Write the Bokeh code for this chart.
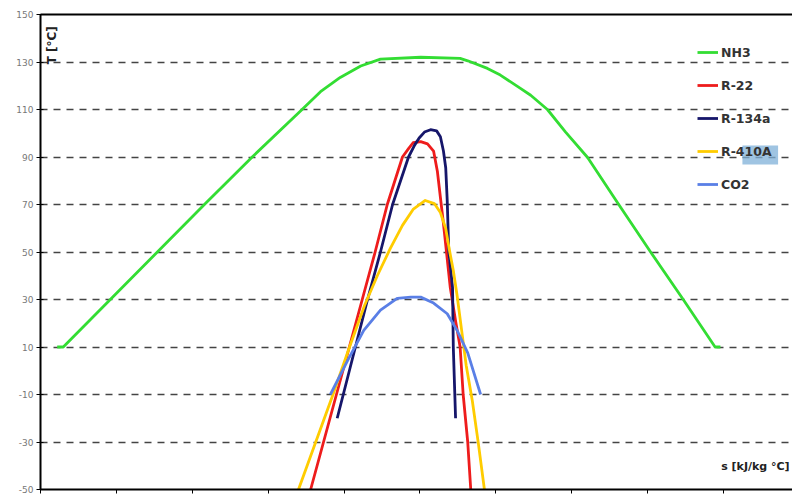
from bokeh.plotting import figure
from bokeh.models import (FixedTicker, LinearAxis, Label, Legend, LegendItem,
                          BoxAnnotation, Range1d, CustomJSTickFormatter)
from bokeh.embed import file_html
from bokeh.resources import INLINE

# ---- data ----
nh3_s = [0.22, 0.30, 0.92, 1.54, 2.16, 2.79, 3.43, 3.69, 3.95, 4.22, 4.48, 5.01, 5.53,
         5.63, 5.89, 6.06, 6.32, 6.46, 6.68, 6.92, 7.21, 7.62, 8.04, 8.47, 8.89, 8.96]
nh3_t = [10, 10, 30, 50, 70, 90, 109.5, 117.5, 123.5, 128.3, 131.2, 132, 131.5,
         130.5, 127.3, 124.5, 119, 116, 110, 100.5, 89.8, 70, 50, 30, 10, 10]

r22_s = [3.56, 3.73, 3.90, 4.07, 4.24, 4.41, 4.57, 4.77, 4.85, 4.91, 5.01, 5.10,
         5.18, 5.23, 5.31, 5.40, 5.47, 5.53, 5.57, 5.63, 5.67]
r22_t = [-50, -30, -10, 10, 30, 50, 70, 90, 93.5, 96, 96.5, 95.5,
         92.5, 84, 62, 35, 21, 10, -10, -30, -50]

r134a_s = [3.91, 3.99, 4.15, 4.31, 4.48, 4.64, 4.85, 4.93, 4.99, 5.06, 5.14, 5.22,
           5.27, 5.31, 5.34, 5.36, 5.38, 5.43, 5.44, 5.47]
r134a_t = [-20, -10, 10, 30, 50, 70, 90, 95, 98, 100.5, 101.5, 101,
           98.5, 92.5, 85.5, 71.5, 50.5, 35, 10, -20]

r410a_s = [3.40, 3.62, 3.85, 4.07, 4.27, 4.44, 4.61, 4.77, 4.91, 5.07, 5.19, 5.27,
           5.34, 5.39, 5.44, 5.49, 5.55, 5.61, 5.69, 5.77, 5.85]
r410a_t = [-50, -30.6, -10.4, 9.8, 27.5, 40.1, 51.5, 61.2, 67.9, 71.7, 70.4, 66.6,
           59.9, 50.6, 42.2, 31.7, 17, 2.2, -12.5, -30.6, -50]

co2_s = [3.82, 4.05, 4.26, 4.48, 4.70, 4.88, 5.01, 5.18, 5.36, 5.49, 5.63, 5.80]
co2_t = [-10, 4.5, 17, 25.5, 30.5, 31, 31, 28.5, 24, 17, 7.5, -10]

y_ticks = [-50, -30, -10, 10, 30, 50, 70, 90, 110, 130, 150]
x_ticks = [0, 1, 2, 3, 4, 5, 6, 7, 8, 9]

series = [
    ("NH3", nh3_s, nh3_t, "#33dd33"),
    ("R-22", r22_s, r22_t, "#ee1c1c"),
    ("R-134a", r134a_s, r134a_t, "#16166a"),
    ("R-410A", r410a_s, r410a_t, "#ffcc00"),
    ("CO2", co2_s, co2_t, "#5a7fe6"),
]

p = figure(width=792, height=494, output_backend="svg", toolbar_location=None,
           x_range=Range1d(0, 9.91), y_range=Range1d(-50, 150),
           min_border_left=40, min_border_right=0, min_border_top=14,
           min_border_bottom=5)
p.outline_line_color = None
p.background_fill_color = "white"
p.border_fill_color = "white"

# y axis
ya = p.yaxis[0]
ya.ticker = FixedTicker(ticks=y_ticks)
ya.formatter = CustomJSTickFormatter(code="return String(tick)")
ya.axis_line_color = "black"
ya.axis_line_width = 2
ya.major_tick_in = 3
ya.major_tick_out = 4
ya.major_tick_line_color = "black"
ya.minor_tick_line_color = None
ya.major_label_text_font = "DejaVu Sans"
ya.major_label_text_font_size = "9px"
ya.major_label_text_color = "#777777"
ya.major_label_standoff = 3

# x axis (its labels fall outside the picture)
xa = p.xaxis[0]
xa.ticker = FixedTicker(ticks=x_ticks)
xa.formatter = CustomJSTickFormatter(code="return ''")
xa.axis_line_color = "black"
xa.axis_line_width = 2
xa.major_tick_in = 0
xa.major_tick_out = 4
xa.minor_tick_line_color = None
xa.major_label_standoff = 0

# top border
top = LinearAxis(ticker=FixedTicker(ticks=[]), axis_line_color="black",
                 axis_line_width=2, major_tick_line_color=None,
                 minor_tick_line_color=None, major_label_standoff=0)
p.add_layout(top, "above")

p.xgrid.grid_line_color = None
p.ygrid.ticker = FixedTicker(ticks=y_ticks)
p.ygrid.grid_line_color = "#444444"
p.ygrid.grid_line_width = 1.4
p.ygrid.grid_line_dash = "7 6"

items = []
for name, xs, ys, col in series:
    r = p.line(xs, ys, line_color=col, line_width=2.8, line_join="round")
    items.append(LegendItem(label=name, renderers=[r]))

# highlight box seen behind "10A"
p.add_layout(BoxAnnotation(left=9.25, right=9.72, bottom=86.8, top=94.8,
                           fill_color="#7fb0d8", fill_alpha=0.75,
                           line_color=None))

legend = Legend(items=items, location=(657, 295), orientation="vertical",
                background_fill_alpha=0, border_line_color=None,
                padding=0, margin=0, spacing=13, glyph_height=20,
                label_height=20, glyph_width=21, label_standoff=3,
                label_text_font="DejaVu Sans", label_text_font_style="bold",
                label_text_font_size="12.5px", label_text_color="#333333")
p.add_layout(legend, "center")

p.add_layout(Label(x=0.158, y=129, text="T [°C]", angle=1.5708,
                   text_align="left", text_baseline="middle",
                   text_font="DejaVu Sans", text_font_style="bold",
                   text_font_size="12px", text_color="#222222"))
p.add_layout(Label(x=8.97, y=-40.3, text="s [kJ/kg °C]",
                   text_align="left", text_baseline="middle",
                   text_font="DejaVu Sans", text_font_style="bold",
                   text_font_size="11px", text_color="#222222"))

open("out.html", "w").write(file_html(p, INLINE))
